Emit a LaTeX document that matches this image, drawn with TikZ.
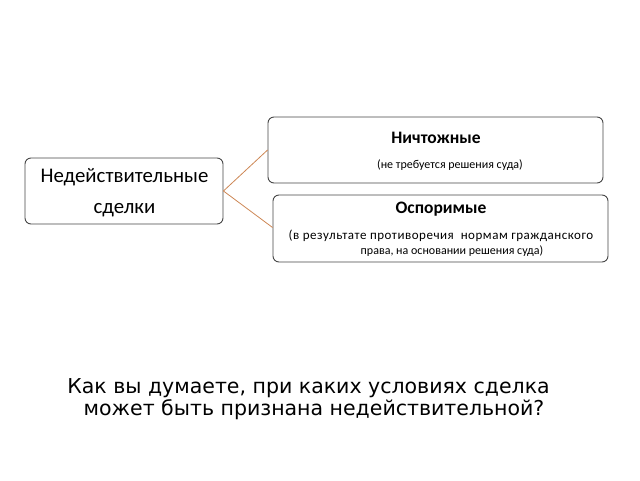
\documentclass[tikz,border=0pt]{standalone}
\usepackage{fontspec}
\setmainfont{Carlito}
\newfontfamily\dejavu{DejaVu Sans}
\definecolor{conn}{RGB}{205,135,85}
\definecolor{frame}{RGB}{70,70,70}
\begin{document}
\begin{tikzpicture}[x=1pt,y=1pt,
  box/.style={draw=frame,line width=0.9pt,rounded corners=6pt,fill=white,inner sep=0pt},
  conline/.style={draw=conn,line width=0.8pt},
  txt/.style={anchor=base,inner sep=0pt}]
\useasboundingbox (0,0) rectangle (640,-480);
% boxes
\node[box,minimum width=198,minimum height=66] (main) at (124,-191) {};
\node[box,minimum width=335,minimum height=66] (nul) at (435.5,-150) {};
\node[box,minimum width=335,minimum height=67] (opp) at (440.5,-228.5) {};
% texts
\node[txt,font=\fontsize{20.8}{20.8}\selectfont] (m1) at (124.5,-182) {Недействительные};
\node[txt,font=\fontsize{20.8}{20.8}\selectfont] (m2) at (124.5,-213) {сделки};
\node[txt,font=\fontsize{17.5}{17.5}\selectfont\bfseries] (n1) at (436,-143) {Ничтожные};
\node[txt,font=\fontsize{12}{12}\selectfont] (n2) at (450,-168) {(не требуется решения суда)};
\node[txt,font=\fontsize{17.5}{17.5}\selectfont\bfseries] (o1) at (441,-213) {Оспоримые};
\node[txt,font=\fontsize{13}{13}\selectfont\addfontfeature{LetterSpace=4}] (o2) at (441,-239) {(в результате противоречия\ \ нормам\ гражданского};
\node[txt,font=\fontsize{12}{12}\selectfont] (o3) at (452,-254) {права, на основании решения\ суда)};
% question
\node[txt,font=\dejavu\fontsize{20.5}{20.5}\selectfont] (q1) at (308.5,-393) {Как вы думаете, при каких условиях сделка};
\node[txt,font=\dejavu\fontsize{20.5}{20.5}\selectfont] (q2) at (314,-415) {может быть признана недействительной?};
% connectors
\draw[conline] (main.east) -- (nul.west);
\draw[conline] (main.east) -- ([yshift=1pt]opp.west);
\end{tikzpicture}
\end{document}
